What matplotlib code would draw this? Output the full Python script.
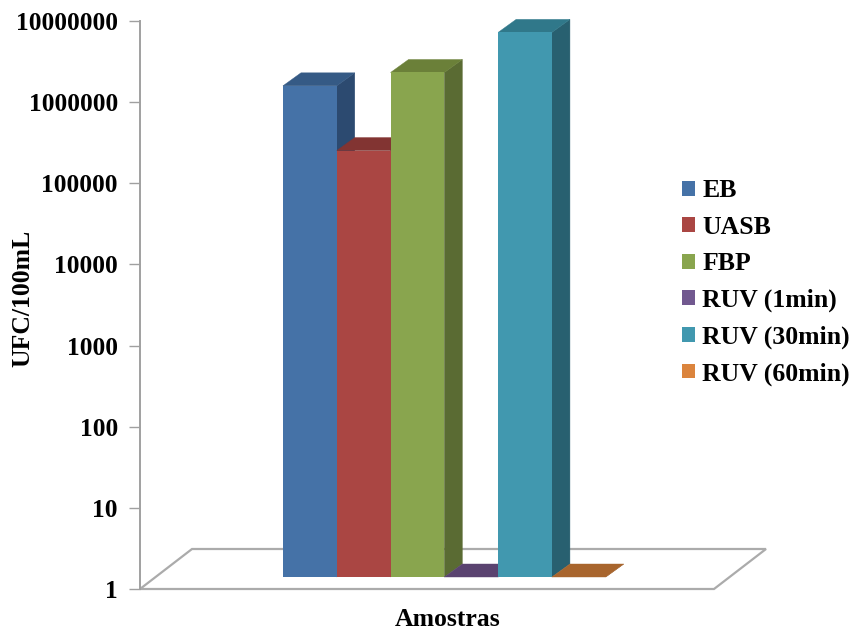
import matplotlib
matplotlib.use('Agg')
import matplotlib.pyplot as plt
from matplotlib.patches import Polygon
from matplotlib.transforms import Affine2D

# Data
amostras = ['EB', 'UASB', 'FBP', 'RUV (1min)', 'RUV (30min)', 'RUV (60min)']
ufc = [1130000, 180000, 1650000, 1, 5150000, 1]
y_ticks = [1, 10, 100, 1000, 10000, 100000, 1000000, 10000000]

# front, top and side colours
front_colors = ['#4572A7', '#AA4643', '#89A54E', '#71588F', '#4198AF', '#DB843D']
top_colors = ['#355A85', '#823432', '#6B8039', '#5A4370', '#30788A', '#A8652D']
side_colors = ['#2C4A70', '#823432', '#5A6B33', '#4A3760', '#286070', '#8A5225']

W, H = 851, 630
plt.rcParams['font.family'] = ['Liberation Serif', 'DejaVu Serif']
plt.rcParams['font.weight'] = 'bold'

fig = plt.figure(figsize=(W / 100, H / 100), dpi=100)
ax = fig.add_axes([140 / W, (H - 589) / H, 574 / W, 568 / H])
ax.set_yscale('log')
ax.set_ylim(1, 10000000)
ax.set_xlim(-2.86, 7.81)

# offsets in pixels: bars sit in the middle of the floor, depth of one bar
floor_dx, floor_dy = 52, 40
bar_dx, bar_dy = 16, 12
depth_dx, depth_dy = 18, 13


def px(x, y, dx=0, dy=0):
    p = ax.transData.transform((x, y))
    return (p[0] + dx, p[1] + dy)


def face(points, color, z):
    ax.add_patch(Polygon(points, closed=True, facecolor=color, edgecolor=color,
                         linewidth=0.3, transform=None, clip_on=False, zorder=z))


# floor
x0, x1 = ax.get_xlim()
floor = [px(x0, 1), px(x0, 1, floor_dx, floor_dy), px(x1, 1, floor_dx, floor_dy), px(x1, 1)]
ax.add_patch(Polygon(floor, closed=True, facecolor='white', edgecolor='#ABABAB',
                     linewidth=1.6, transform=None, clip_on=False, zorder=1))

# bars
bar_trans = ax.transData + Affine2D().translate(bar_dx, bar_dy)
for i, (name, v) in enumerate(zip(amostras, ufc)):
    z = 2 + i * 3
    left, right = i - 0.5, i + 0.5
    ax.bar(i, v - 1, bottom=1, width=1.0, color=front_colors[i], label=name,
           transform=bar_trans, clip_on=False, zorder=z + 2)
    # side face
    face([px(right, 1, bar_dx, bar_dy), px(right, v, bar_dx, bar_dy),
          px(right, v, bar_dx + depth_dx, bar_dy + depth_dy),
          px(right, 1, bar_dx + depth_dx, bar_dy + depth_dy)], side_colors[i], z)
    # top face
    face([px(left, v, bar_dx, bar_dy), px(right, v, bar_dx, bar_dy),
          px(right, v, bar_dx + depth_dx, bar_dy + depth_dy),
          px(left, v, bar_dx + depth_dx, bar_dy + depth_dy)], top_colors[i], z + 1)

# axis
for s in ['top', 'right', 'bottom']:
    ax.spines[s].set_visible(False)
ax.spines['left'].set_color('#A0A0A0')
ax.spines['left'].set_linewidth(1.4)
ax.patch.set_visible(False)
ax.set_xticks([])
ax.set_yticks(y_ticks)
ax.set_yticklabels([str(t) for t in y_ticks], fontsize=18.4, fontweight='bold')
ax.minorticks_off()
ax.tick_params(axis='y', length=8, width=1, color='#A0A0A0', pad=8)

fig.text(23 / W, 1 - 298 / H, 'UFC/100mL', rotation=90, fontsize=18.5, fontweight='bold',
         ha='center', va='center')
fig.text(448 / W, 1 - 620 / H, 'Amostras', fontsize=18.5, fontweight='bold',
         ha='center', va='center')

leg = ax.legend(loc='center left', bbox_to_anchor=(682 / W, 1 - 282.5 / H),
                bbox_transform=fig.transFigure, frameon=False, fontsize=18.5,
                handlelength=0.52, handleheight=0.52, handletextpad=0.27,
                labelspacing=0.52, borderpad=0, borderaxespad=0)

fig.savefig('out.png', dpi=100)
